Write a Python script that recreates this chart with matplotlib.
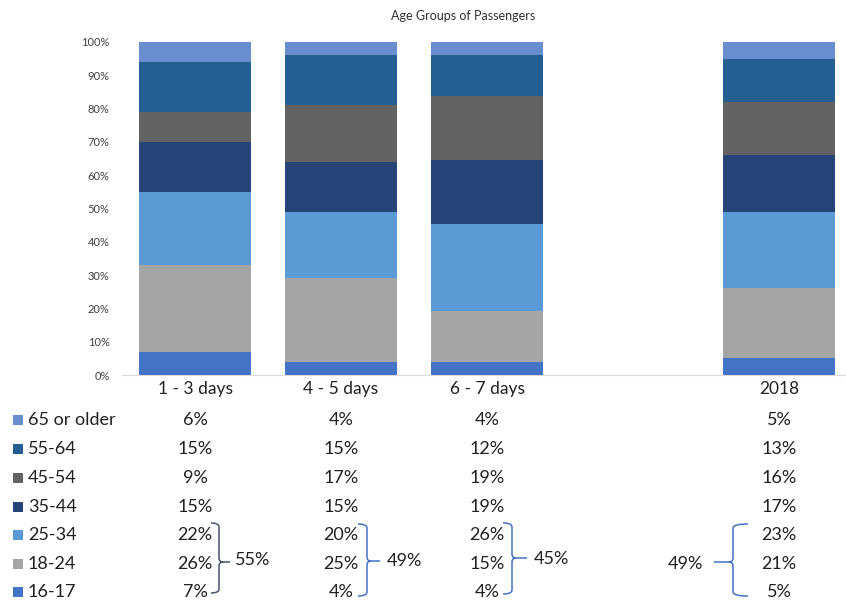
import numpy as np
import matplotlib
matplotlib.use("Agg")
import matplotlib.pyplot as plt
from matplotlib.path import Path
from matplotlib.patches import PathPatch
from matplotlib.transforms import blended_transform_factory

plt.rcParams['font.family'] = ['Lato', 'DejaVu Sans']

categories = ["1 - 3 days", "4 - 5 days", "6 - 7 days", "2018"]
cat_pos = [0, 1, 2, 4]
groups = ["16-17", "18-24", "25-34", "35-44", "45-54", "55-64", "65 or older"]
values = {
    "16-17":       [7, 4, 4, 5],
    "18-24":       [26, 25, 15, 21],
    "25-34":       [22, 20, 26, 23],
    "35-44":       [15, 15, 19, 17],
    "45-54":       [9, 17, 19, 16],
    "55-64":       [15, 15, 12, 13],
    "65 or older": [6, 4, 4, 5],
}
colors = {
    "16-17": "#4472C4",
    "18-24": "#A5A5A5",
    "25-34": "#5B9BD5",
    "35-44": "#264478",
    "45-54": "#636363",
    "55-64": "#255E91",
    "65 or older": "#698ED0",
}
young_sum = ["55%", "49%", "45%", "49%"]

W, H = 846, 605
fig = plt.figure(figsize=(W / 100, H / 100), dpi=100)
ax = fig.add_axes([122 / W, (H - 375) / H, (W - 122) / W, 333 / H])

totals = np.sum([values[g] for g in groups], axis=0)
bottom = np.zeros(len(categories))
for g in groups:
    v = np.array(values[g]) / totals * 100
    ax.bar(cat_pos, v, bottom=bottom, width=0.77, color=colors[g], linewidth=0)
    bottom += v

ax.set_xlim(-0.5, 4.5 - 6 / 146)
ax.set_ylim(0, 100)
ax.set_yticks(np.arange(0, 101, 10))
ax.set_yticklabels([f"{t}%" for t in range(0, 101, 10)], fontsize=8, color="#404040")
ax.set_xticks(cat_pos)
ax.set_xticklabels(categories, fontsize=12.5, color="#202020")
ax.tick_params(length=0)
ax.tick_params(axis="y", pad=9)
ax.tick_params(axis="x", pad=4)
for s in ["top", "left", "right"]:
    ax.spines[s].set_visible(False)
ax.spines["bottom"].set_color("#D9D9D9")

# overlay in pixel coords (y down)
ov = fig.add_axes([0, 0, 1, 1], zorder=-1)
ov.set_xlim(0, W)
ov.set_ylim(H, 0)
ov.axis("off")
trans = blended_transform_factory(ax.transData, ov.transData)

ov.text(463, 16, "Age Groups of Passengers", fontsize=9, ha="center", va="center",
        color="#303030")

row_y = [420, 449, 478, 507, 535, 564, 592]
for i, g in enumerate(groups[::-1]):
    y = row_y[i]
    ov.add_patch(plt.Rectangle((12.5, y - 5), 10, 10, color=colors[g], lw=0))
    ov.text(28, y, g, fontsize=13, va="center", ha="left", color="#202020")
    for j, p in enumerate(cat_pos):
        ov.text(p, y, f"{values[g][j]}%", transform=trans, fontsize=13,
                va="center", ha="center", color="#202020")


def brace(x, y0, y1, ym, xend, xtip, color):
    s = 1 if xtip > x else -1
    r = 4
    verts = [(xend, y0), (x, y0), (x, y0 + r),
             (x, ym - r), (x, ym), (x + s * r, ym),
             (xtip, ym),
             (x + s * r, ym), (x, ym), (x, ym + r),
             (x, y1 - r), (x, y1), (xend, y1)]
    codes = [Path.MOVETO, Path.CURVE3, Path.CURVE3,
             Path.LINETO, Path.CURVE3, Path.CURVE3,
             Path.LINETO,
             Path.MOVETO, Path.CURVE3, Path.CURVE3,
             Path.LINETO, Path.CURVE3, Path.CURVE3]
    ov.add_patch(PathPatch(Path(verts, codes), fill=False, edgecolor=color, lw=1.1))


brace(219, 523, 593, 562, 211, 230, "#44546A")
brace(367, 524, 596, 561, 358, 380, "#4472C4")
brace(512, 523, 594, 558, 503, 527, "#4472C4")
brace(733, 524, 596, 562, 748, 714, "#4472C4")
ov.text(235, 560, young_sum[0], fontsize=13, va="center", ha="left", color="#202020")
ov.text(387, 561, young_sum[1], fontsize=13, va="center", ha="left", color="#202020")
ov.text(534, 559, young_sum[2], fontsize=13, va="center", ha="left", color="#202020")
ov.text(703, 564, young_sum[3], fontsize=13, va="center", ha="right", color="#202020")

fig.savefig("out.png", dpi=100)
